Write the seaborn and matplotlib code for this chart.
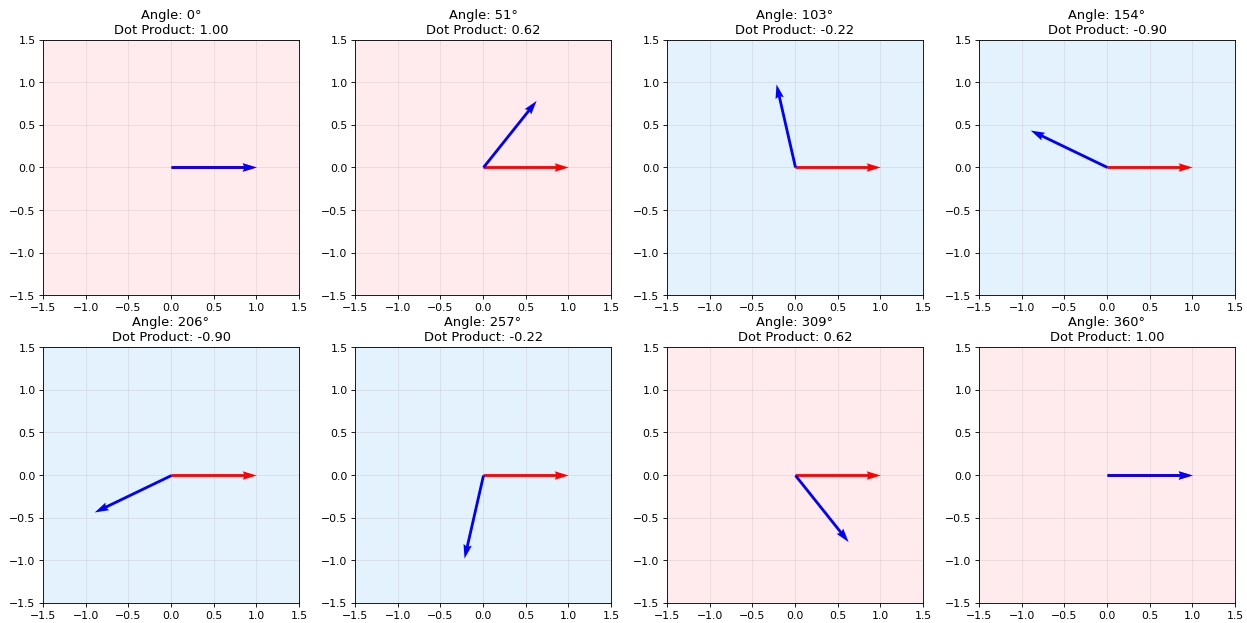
import numpy as np
import matplotlib
matplotlib.use("Agg")
import matplotlib.pyplot as plt
import seaborn as sns

# Rotation angles (degrees) of the second unit vector, one per panel
angles_deg = [0.0, 51.43, 102.86, 154.29, 205.71, 257.14, 308.57, 360.0]
# Fixed reference vector
ref_vec = [1.0, 0.0]

pos_color = "#ffebee"
neg_color = "#e3f2fd"

sns.set_style("ticks")
plt.rcParams["font.family"] = ["DejaVu Sans"]
plt.rcParams["text.color"] = "black"
plt.rcParams["axes.labelcolor"] = "black"

W, H = 1247, 623
fig, axes = plt.subplots(2, 4, figsize=(16, 8))
fig.subplots_adjust(left=43 / W, right=1235 / W,
                    bottom=20 / H, top=1 - 40 / H,
                    wspace=56 / 256, hspace=52 / 256)

for ax, ang in zip(axes.flat, angles_deg):
    rad = np.deg2rad(ang)
    vec = [np.cos(rad), np.sin(rad)]
    dot = ref_vec[0] * vec[0] + ref_vec[1] * vec[1]

    ax.set_facecolor(pos_color if dot > 0 else neg_color)
    ax.quiver(0, 0, ref_vec[0], ref_vec[1], angles="xy", scale_units="xy",
              scale=1, color="red", width=0.011)
    ax.quiver(0, 0, vec[0], vec[1], angles="xy", scale_units="xy",
              scale=1, color="blue", width=0.011)

    ax.set_xlim(-1.5, 1.5)
    ax.set_ylim(-1.5, 1.5)
    ax.set_aspect("equal")
    ax.grid(True, alpha=0.3, color="#b0b0b0", linewidth=0.8)
    ax.set_xticks(np.arange(-1.5, 1.51, 0.5))
    ax.set_yticks(np.arange(-1.5, 1.51, 0.5))
    ax.tick_params(labelsize=10, colors="black", length=3.5, width=0.8,
                   pad=3.5)
    for s in ax.spines.values():
        s.set_color("black")
        s.set_linewidth(0.8)
    ax.set_title(f"Angle: {ang:.0f}°\nDot Product: {dot:.2f}", fontsize=12,
                 pad=6, color="black")

fig.savefig("out.png", dpi=W / 16)
